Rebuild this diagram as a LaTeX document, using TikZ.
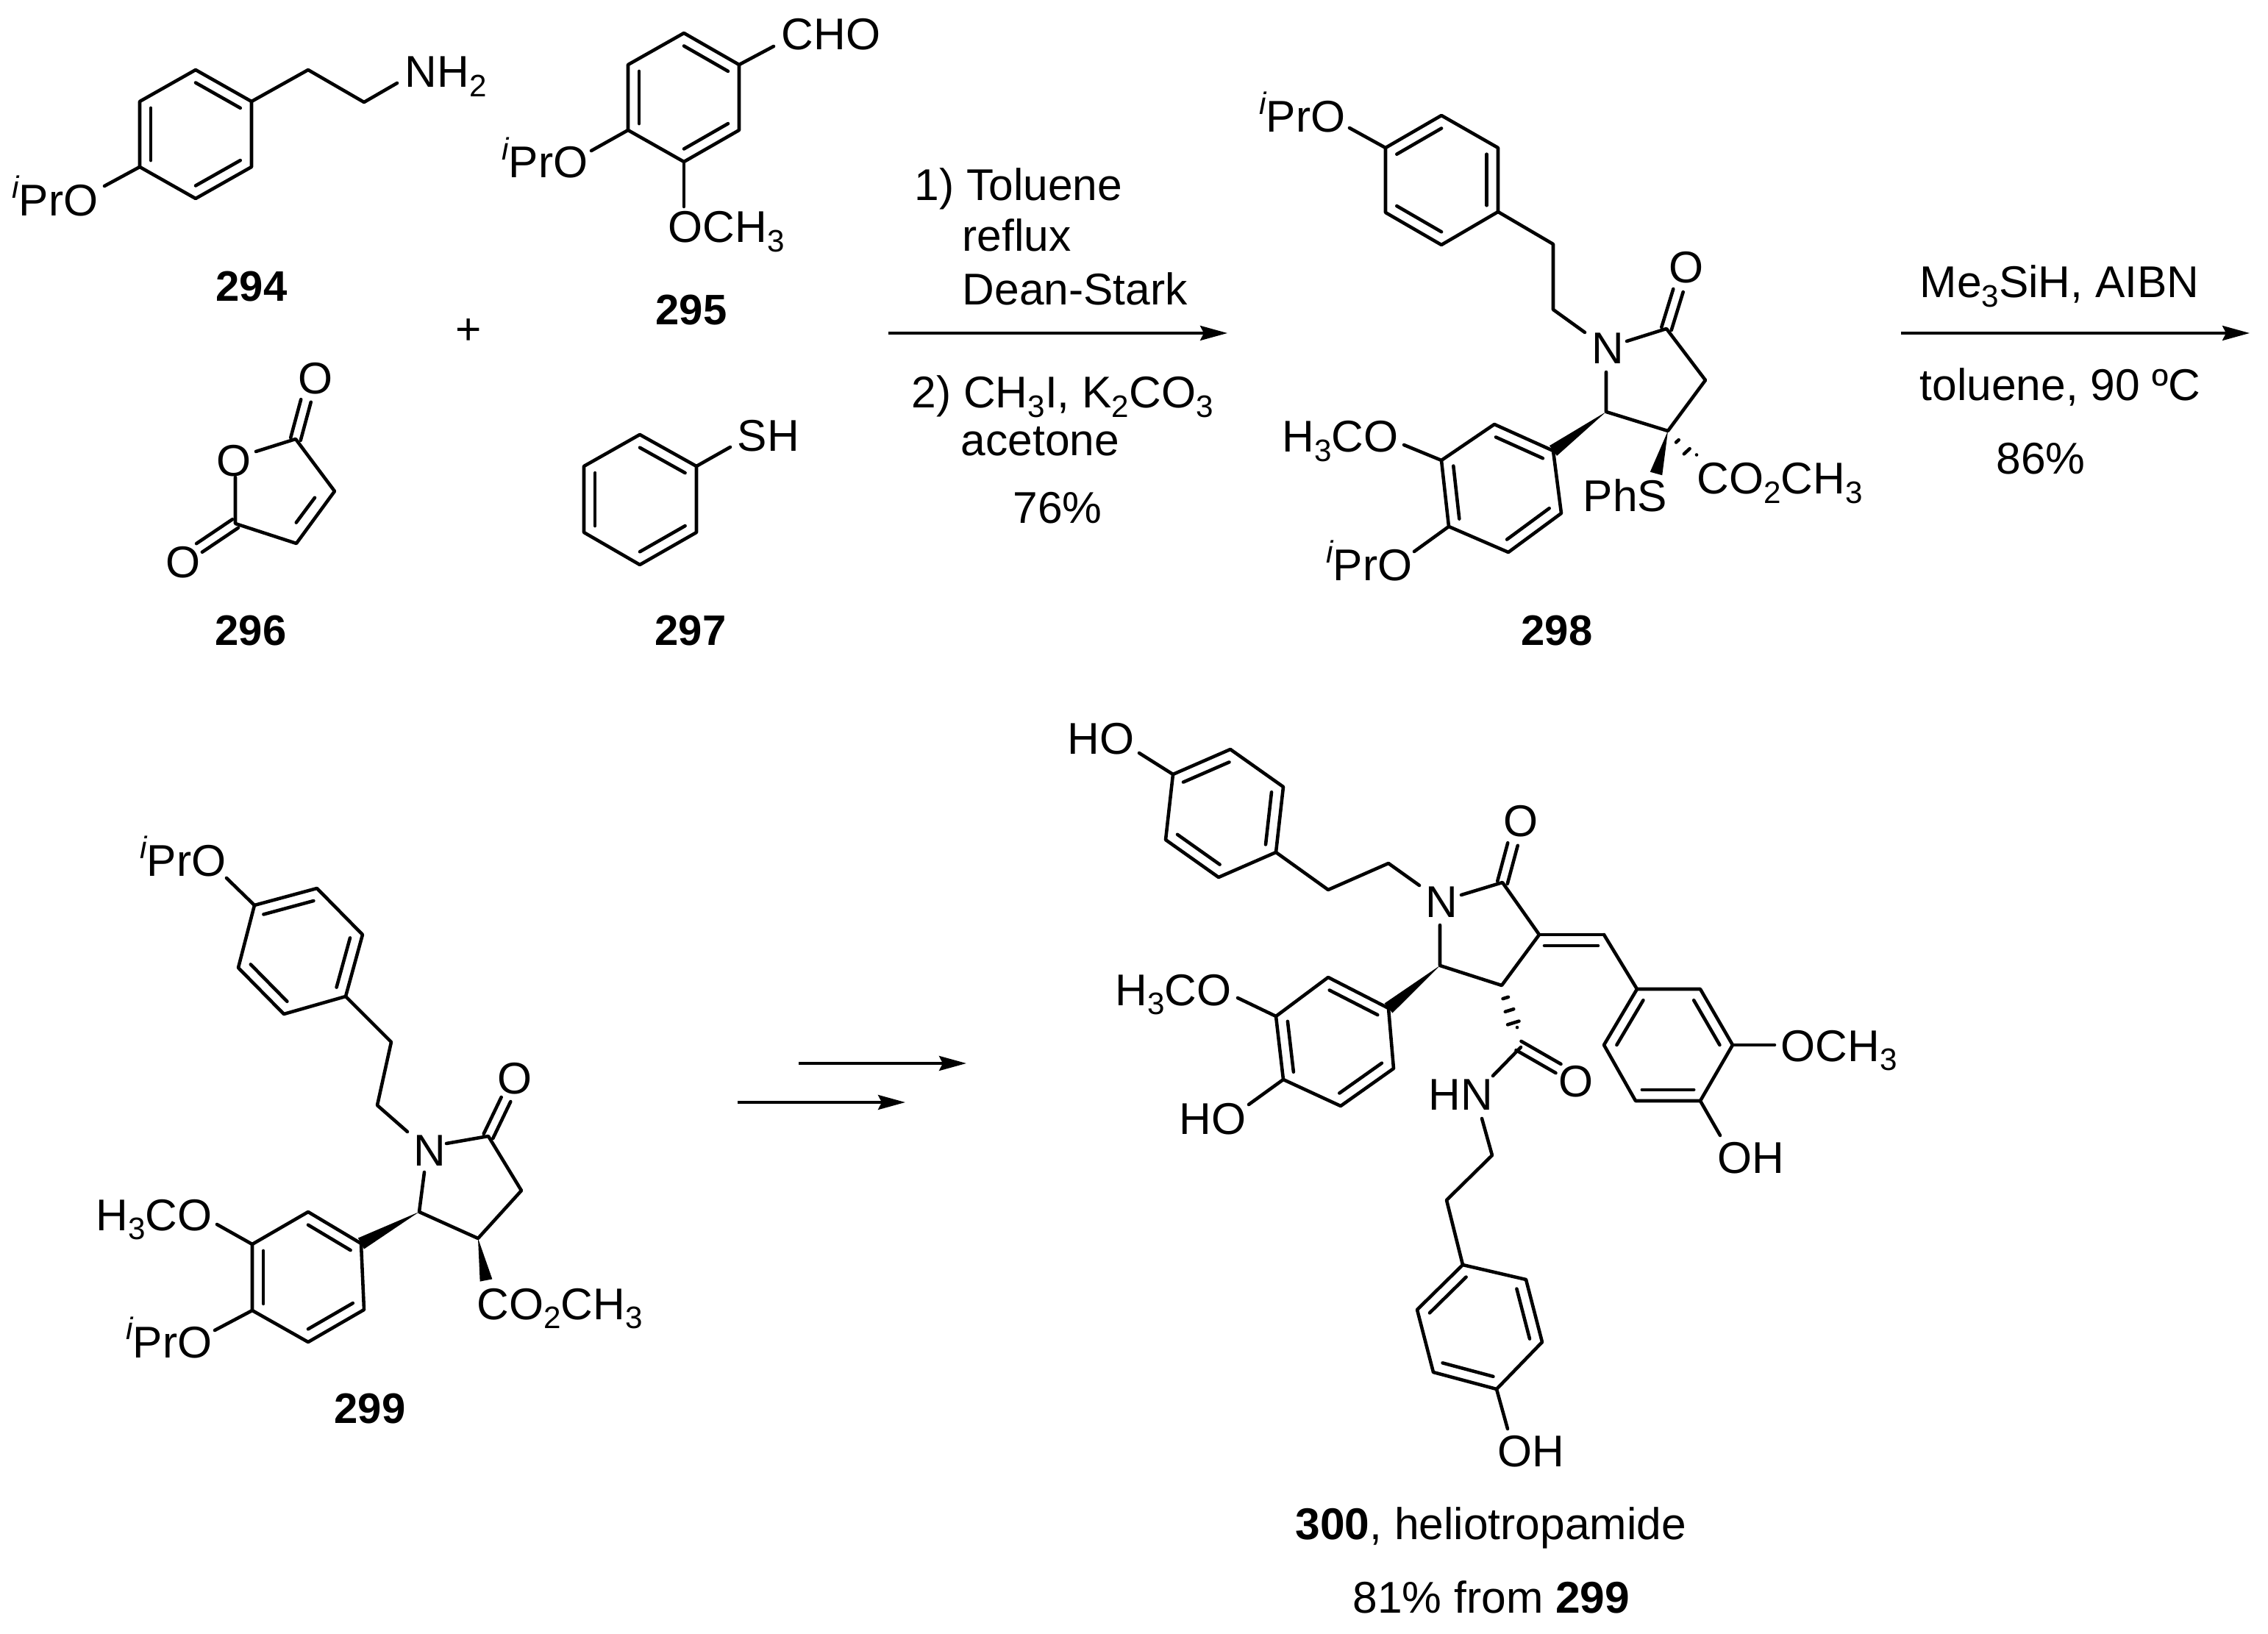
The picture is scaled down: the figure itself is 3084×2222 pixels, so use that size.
\documentclass[tikz,border=0pt]{standalone}
\usepackage{fontspec}
\setmainfont{Liberation Sans}
\usetikzlibrary{calc, arrows.meta}
\newcommand\dn[1]{\raisebox{-.2em}{\fontsize{12}{13}\selectfont #1}}
\newcommand\ipr{\raisebox{.4em}{\fontsize{12}{13}\selectfont\itshape i}Pr}
\tikzstyle{bond} = [line width=1.3pt, line cap=round, line join=round]
\tikzstyle{rxn} = [line width=1pt, -{Stealth[length=3.7mm,width=2mm,inset=.5mm]}]
\tikzstyle{lab} = [inner sep=0, font=\fontsize{17.2}{19}\selectfont]
\tikzstyle{labl} = [lab, anchor=base west]
\tikzstyle{labr} = [lab, anchor=base east]
\tikzstyle{labc} = [lab, anchor=base]
\tikzstyle{cpd} = [labc, font=\fontsize{16.5}{18}\selectfont\bfseries]
% six ring, double bonds on 1-2, 3-4, 5-6
\newcommand\benzene[7]{%
  \coordinate (#11) at #2; \coordinate (#12) at #3; \coordinate (#13) at #4;
  \coordinate (#14) at #5; \coordinate (#15) at #6; \coordinate (#16) at #7;
  \coordinate (#1c) at ($(#11)!.5!(#14)$);
  \draw[bond] (#11) -- (#12) -- (#13) -- (#14) -- (#15) -- (#16) -- cycle;
  \draw[bond] ($(#11)!.2!(#1c)$) -- ($(#12)!.2!(#1c)$);
  \draw[bond] ($(#13)!.2!(#1c)$) -- ($(#14)!.2!(#1c)$);
  \draw[bond] ($(#15)!.2!(#1c)$) -- ($(#16)!.2!(#1c)$);
}
\newcommand\dbl[2]{%
  \draw[bond] ($(#1)!.7mm!90:(#2)$) -- ($(#2)!.7mm!-90:(#1)$);
  \draw[bond] ($(#1)!.7mm!-90:(#2)$) -- ($(#2)!.7mm!90:(#1)$);
}
\newcommand\wedgeb[2]{\fill ($(#2)!.85mm!90:(#1)$) -- (#1) -- ($(#2)!.85mm!-90:(#1)$) -- cycle;}
\newcommand\hashb[3]{%
  \foreach \p/\w in {#3}
    \draw[bond] ($(#1)!\p!(#2)!\w pt!90:(#2)$) -- ($(#1)!\p!(#2)!\w pt!-90:(#2)$);
}

\begin{document}
\begin{tikzpicture}[x=.01cm,y=-.01cm]
    \useasboundingbox (0,0) rectangle (3084,2222);

    % Starting materials
    \benzene{amineRing}{(266,95)}{(342,138)}{(342,227)}{(266,270)}{(190,227)}{(190,138)}
    \coordinate (amineA) at (419,95);
    \coordinate (amineB) at (495,139);
    \coordinate (amineN) at (540,113);
    \coordinate (amineO) at (142,253);
    \node[labl] (nhtwo) at (550,119) {NH\dn{2}};
    \node[labr] (iprA) at (134,294) {\ipr O};
    \node[cpd] (cpdA) at (342,410) {294};
    \draw[bond] (amineRing2) -- (amineA) -- (amineB) -- (amineN);
    \draw[bond] (amineRing5) -- (amineO);

    \benzene{aldRing}{(930,45)}{(1005,88)}{(1005,177)}{(930,220)}{(854,177)}{(854,88)}
    \coordinate (aldC) at (1052,63);
    \coordinate (aldO) at (930,281);
    \coordinate (aldP) at (804,205);
    \node[labl] (cho) at (1062,68) {CHO};
    \node[labl] (ochA) at (908,330) {OCH\dn{3}};
    \node[labr] (iprB) at (800,242) {\ipr O};
    \node[cpd] (cpdB) at (940,442) {295};
    \draw[bond] (aldRing2) -- (aldC);
    \draw[bond] (aldRing4) -- (aldO);
    \draw[bond] (aldRing5) -- (aldP);

    \node[lab] (plus) at (637,451) {+};

    % anhydride
    \coordinate (anhA) at (402,597);
    \coordinate (anhB) at (455,668);
    \coordinate (anhC) at (403,739);
    \coordinate (anhD) at (320,712);
    \coordinate (anhE) at (320,649);
    \coordinate (anhF) at (348,614);
    \coordinate (anhG) at (416,545);
    \coordinate (anhH) at (271,745);
    \node[labc] (oRing) at (318,648) {O};
    \node[labc] (oTop) at (429,536) {O};
    \node[labc] (oLow) at (249,786) {O};
    \node[cpd] (cpdC) at (341,878) {296};
    \draw[bond] (anhF) -- (anhA) -- (anhB) -- (anhC) -- (anhD) -- (anhE);
    \draw[bond] ($(anhB)!.2!(anhD)$) -- ($(anhC)!.2!(anhA)$);
    \dbl{anhA}{anhG}
    \dbl{anhD}{anhH}

    \benzene{thiolRing}{(870,591)}{(947,634)}{(947,724)}{(870,768)}{(794,724)}{(794,634)}
    \coordinate (thiolS) at (993,608);
    \node[labl] (sh) at (1002,614) {SH};
    \node[cpd] (cpdD) at (939,878) {297};
    \draw[bond] (thiolRing2) -- (thiolS);

    % First arrow
    \coordinate (arrA) at (1208,453);
    \coordinate (arrB) at (1669,453);
    \draw[rxn] (arrA) -- (arrB);
    \node[labl] (condA) at (1243,273) {1) Toluene};
    \node[labl] (condB) at (1308,342) {reflux};
    \node[labl] (condC) at (1308,415) {Dean-Stark};
    \node[labl] (condD) at (1239,555) {2) CH\dn{3}I, K\dn{2}CO\dn{3}};
    \node[labl] (condE) at (1306,620) {acetone};
    \node[labl] (condF) at (1377,712) {76\%};

    % Lactam with PhS
    \benzene{lacRing}{(1884,201)}{(1960,157)}{(2037,201)}{(2037,288)}{(1960,333)}{(1884,289)}
    \coordinate (lacO) at (1835,174);
    \coordinate (lacA) at (2112,332);
    \coordinate (lacB) at (2112,421);
    \coordinate (lacN) at (2155,452);
    \coordinate (lacD) at (2212,464);
    \coordinate (lacE) at (2266,447);
    \coordinate (lacF) at (2282,395);
    \coordinate (lacG) at (2319,517);
    \coordinate (lacH) at (2268,586);
    \coordinate (lacI) at (2184,560);
    \coordinate (lacJ) at (2184,506);
    \coordinate (lacK) at (2252,644);
    \coordinate (lacL) at (2307,628);
    \node[labr] (iprC) at (1830,180) {\ipr O};
    \node[labl] (nA) at (2164,495) {N};
    \node[labc] (oA) at (2293,385) {O};
    \node[labl] (phs) at (2152,696) {PhS};
    \node[labl] (esterA) at (2307,672) {CO\dn{2}CH\dn{3}};
    \draw[bond] (lacRing4) -- (lacA) -- (lacB) -- (lacN);
    \draw[bond] (lacRing1) -- (lacO);
    \draw[bond] (lacD) -- (lacE) -- (lacG) -- (lacH) -- (lacI) -- (lacJ);
    \dbl{lacE}{lacF}
    \benzene{lacAr}{(2032,577)}{(2112,613)}{(2123,698)}{(2051,751)}{(1970,716)}{(1960,626)}
    \coordinate (lacM) at (1909,605);
    \coordinate (lacP) at (1923,750);
    \node[labr] (hcoA) at (1902,615) {H\dn{3}CO};
    \node[labr] (iprD) at (1921,790) {\ipr O};
    \node[cpd] (cpdE) at (2117,878) {298};
    \draw[bond] (lacAr6) -- (lacM);
    \draw[bond] (lacAr5) -- (lacP);
    \wedgeb{lacI}{lacAr2}
    \wedgeb{lacH}{lacK}
    \hashb{lacH}{lacL}{.33/.7,.66/1.5,1/2.7}

    % Second arrow
    \coordinate (arrC) at (2585,453);
    \coordinate (arrD) at (3059,453);
    \draw[rxn] (arrC) -- (arrD);
    \node[labl] (condG) at (2610,405) {Me\dn{3}SiH, AIBN};
    \node[labl] (condH) at (2610,545) {toluene, 90 ºC};
    \node[labl] (condI) at (2714,645) {86\%};

    % Reduced lactam
    \benzene{redRing}{(346,1231)}{(431,1208)}{(493,1271)}{(470,1355)}{(386,1379)}{(324,1316)}
    \coordinate (redO) at (308,1194);
    \coordinate (redA) at (532,1417);
    \coordinate (redB) at (513,1503);
    \coordinate (redN) at (554,1539);
    \coordinate (redD) at (607,1555);
    \coordinate (redE) at (664,1545);
    \coordinate (redF) at (688,1495);
    \coordinate (redG) at (709,1619);
    \coordinate (redH) at (650,1684);
    \coordinate (redI) at (570,1648);
    \coordinate (redJ) at (577,1594);
    \coordinate (redK) at (661,1741);
    \node[labr] (iprE) at (308,1192) {\ipr O};
    \node[labl] (nB) at (562,1585) {N};
    \node[labc] (oB) at (700,1487) {O};
    \node[labl] (esterB) at (648,1794) {CO\dn{2}CH\dn{3}};
    \draw[bond] (redRing4) -- (redA) -- (redB) -- (redN);
    \draw[bond] (redRing1) -- (redO);
    \draw[bond] (redD) -- (redE) -- (redG) -- (redH) -- (redI) -- (redJ);
    \dbl{redE}{redF}
    \benzene{redAr}{(419,1648)}{(491,1691)}{(495,1781)}{(419,1825)}{(343,1782)}{(343,1692)}
    \coordinate (redM) at (295,1665);
    \coordinate (redP) at (292,1809);
    \node[labr] (hcoB) at (289,1673) {H\dn{3}CO};
    \node[labr] (iprF) at (289,1846) {\ipr O};
    \node[cpd] (cpdF) at (503,1935) {299};
    \draw[bond] (redAr6) -- (redM);
    \draw[bond] (redAr5) -- (redP);
    \wedgeb{redI}{redAr2}
    \wedgeb{redH}{redK}

    % Two step arrows
    \coordinate (arrE) at (1086,1446);
    \coordinate (arrF) at (1314,1446);
    \coordinate (arrG) at (1003,1499);
    \coordinate (arrH) at (1231,1499);
    \draw[rxn] (arrE) -- (arrF);
    \draw[rxn] (arrG) -- (arrH);

    % Final product
    \benzene{helRing}{(1595,1053)}{(1673,1019)}{(1745,1070)}{(1735,1159)}{(1657,1193)}{(1585,1142)}
    \coordinate (helO) at (1549,1024);
    \coordinate (helA) at (1806,1210);
    \coordinate (helB) at (1888,1174);
    \coordinate (helN) at (1930,1204);
    \coordinate (helD) at (1987,1217);
    \coordinate (helE) at (2043,1200);
    \coordinate (helF) at (2057,1148);
    \coordinate (helG) at (2093,1271);
    \coordinate (helH) at (2042,1340);
    \coordinate (helI) at (1958,1313);
    \coordinate (helJ) at (1958,1258);
    \coordinate (helK) at (2181,1271);
    \coordinate (helL) at (2063,1408);
    \coordinate (helLa) at (2065,1422);
    \coordinate (helLb) at (2119,1453);
    \coordinate (helLc) at (2068,1424);
    \coordinate (helQ) at (2030,1463);
    \coordinate (helR) at (2015,1521);
    \coordinate (helS) at (2029,1571);
    \coordinate (helT) at (1967,1632);
    \node[labr] (hoA) at (1543,1026) {HO};
    \node[labl] (nC) at (1938,1248) {N};
    \node[labc] (oC) at (2068,1138) {O};
    \node[labc] (oD) at (2143,1491) {O};
    \node[labl] (hn) at (1942,1509) {HN};
    \draw[bond] (helRing1) -- (helO);
    \draw[bond] (helRing4) -- (helA) -- (helB) -- (helN);
    \draw[bond] (helD) -- (helE) -- (helG) -- (helH) -- (helI) -- (helJ);
    \dbl{helE}{helF}
    \draw[bond] (helG) -- (helK);
    \coordinate (helGb) at (2100,1286);
    \coordinate (helKb) at (2173,1286);
    \draw[bond] (helGb) -- (helKb);
    \benzene{helVan}{(2312,1345)}{(2356,1421)}{(2312,1497)}{(2224,1497)}{(2181,1421)}{(2226,1345)}
    \coordinate (helU) at (2413,1421);
    \coordinate (helV) at (2339,1544);
    \node[labl] (ochB) at (2421,1443) {OCH\dn{3}};
    \node[labl] (ohA) at (2335,1595) {OH};
    \draw[bond] (helK) -- (helVan6);
    \draw[bond] (helVan2) -- (helU);
    \draw[bond] (helVan3) -- (helV);
    \benzene{helAr}{(1806,1329)}{(1888,1371)}{(1895,1453)}{(1823,1504)}{(1745,1468)}{(1735,1382)}
    \coordinate (helW) at (1683,1357);
    \coordinate (helX) at (1698,1502);
    \node[labr] (hcoC) at (1675,1367) {H\dn{3}CO};
    \node[labr] (hoB) at (1695,1542) {HO};
    \draw[bond] (helAr6) -- (helW);
    \draw[bond] (helAr5) -- (helX);
    \wedgeb{helI}{helAr2}
    \hashb{helH}{helL}{.25/1.1,.5/1.7,.75/2.3,1/3.1}
    \dbl{helLa}{helLb}
    \draw[bond] (helLc) -- (helQ);
    \benzene{helTyr}{(2075,1740)}{(2097,1825)}{(2035,1889)}{(1949,1866)}{(1927,1781)}{(1989,1720)}
    \coordinate (helY) at (2050,1943);
    \node[labl] (ohB) at (2036,1994) {OH};
    \draw[bond] (helR) -- (helS) -- (helT) -- (helTyr6);
    \draw[bond] (helTyr3) -- (helY);
    \node[labl] (nameA) at (1761,2093) {\textbf{300}, heliotropamide};
    \node[labl] (nameB) at (1839,2193) {81\% from \textbf{299}};
\end{tikzpicture}
\end{document}
